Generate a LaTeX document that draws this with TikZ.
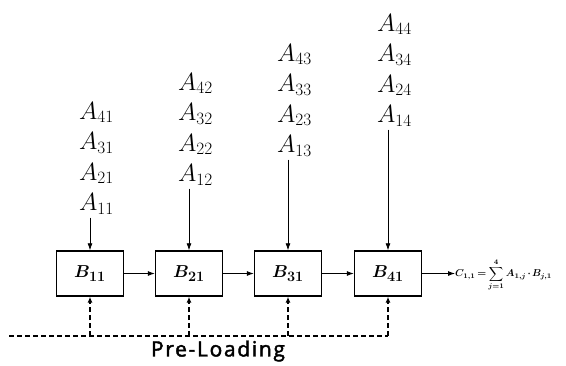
\documentclass[tikz,border=0pt]{standalone}
\usepackage{amsmath,bm}
\usepackage{fontspec}
\newfontfamily\labelsans[FakeBold=2,LetterSpace=8]{Open Sans}
\usetikzlibrary{arrows.meta}
\tikzset{
  blk/.style={draw, line width=1.4pt, minimum width=67pt, minimum height=45pt,
              inner sep=0pt, font=\fontsize{19}{22}\selectfont},
  alab/.style={anchor=west, inner sep=0pt, font=\fontsize{24}{27}\selectfont},
  feed/.style={line width=0.8pt, shorten <=3pt, -{Latex[length=7pt,width=5pt]}},
  flow/.style={line width=0.8pt, -{Latex[length=7pt,width=5pt]}},
  pre/.style={line width=1.6pt, dash pattern=on 5pt off 3pt},
  prearr/.style={pre, -{Latex[length=6pt,width=5pt]}},
}
\begin{document}
\begin{tikzpicture}[x=1pt, y=-1pt]
\useasboundingbox (0,0) rectangle (566,365);

% processing blocks
\node[blk] (b11) at (90,273.5)  {$\bm{B_{11}}$};
\node[blk] (b21) at (189,273.5) {$\bm{B_{21}}$};
\node[blk] (b31) at (288,273.5) {$\bm{B_{31}}$};
\node[blk] (b41) at (388,273.5) {$\bm{B_{41}}$};

% input streams
\node[alab] (a41) at (79,112.5) {$A_{41}$};
\node[alab] (a31) at (79,143)   {$A_{31}$};
\node[alab] (a21) at (79,173.5) {$A_{21}$};
\node[alab] (a11) at (79,204)   {$A_{11}$};

\node[alab] (a42) at (178,83.5)  {$A_{42}$};
\node[alab] (a32) at (178,114)   {$A_{32}$};
\node[alab] (a22) at (178,144.5) {$A_{22}$};
\node[alab] (a12) at (178,175)   {$A_{12}$};

\node[alab] (a43) at (277,54.5)  {$A_{43}$};
\node[alab] (a33) at (277,85)    {$A_{33}$};
\node[alab] (a23) at (277,115.5) {$A_{23}$};
\node[alab] (a13) at (277,146)   {$A_{13}$};

\node[alab] (a44) at (377,24.5)  {$A_{44}$};
\node[alab] (a34) at (377,55)    {$A_{34}$};
\node[alab] (a24) at (377,85.5)  {$A_{24}$};
\node[alab] (a14) at (377,116)   {$A_{14}$};

\draw[feed] (a11.south -| b11.north) -- (b11.north);
\draw[feed] (a12.south -| b21.north) -- (b21.north);
\draw[feed] (a13.south -| b31.north) -- (b31.north);
\draw[feed] (a14.south -| b41.north) -- (b41.north);

% systolic chain
\draw[flow] (b11) -- (b21);
\draw[flow] (b21) -- (b31);
\draw[flow] (b31) -- (b41);

\node[anchor=west, inner sep=0pt, font=\fontsize{10}{12}\selectfont\boldmath] (res) at (455,275)
  {$\thickmuskip=3mu \medmuskip=2mu
    C_{1,1} = \displaystyle\sum_{j=1}^{4} A_{1,j} \cdot B_{j,1}$};
\draw[flow] (b41.east) -- (res.west |- b41.east);

% pre-loading bus
\coordinate (pl0) at (9,336);
\coordinate (pl4) at (388,336);
\draw[pre] (pl0) -- (pl4);
\draw[prearr] (b11.south |- pl0) -- (b11.south);
\draw[prearr] (b21.south |- pl0) -- (b21.south);
\draw[prearr] (b31.south |- pl0) -- (b31.south);
\draw[prearr] (pl4) -- (b41.south);
\node[inner sep=0pt, font=\labelsans\fontsize{21}{25}\selectfont] (pl) at (218,351) {Pre-Loading};
\end{tikzpicture}
\end{document}
